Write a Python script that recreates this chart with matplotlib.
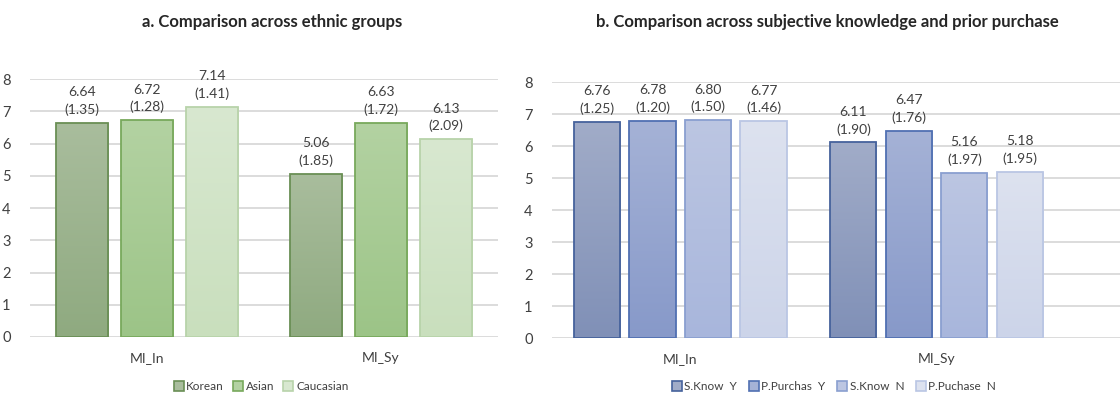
import numpy as np
import matplotlib
matplotlib.use("Agg")
import matplotlib.pyplot as plt
from matplotlib.colors import LinearSegmentedColormap
from matplotlib.lines import Line2D

plt.rcParams['font.family'] = ['Lato', 'DejaVu Sans']

# ---- data ----
groups = ["MI_In", "MI_Sy"]

eth_names = ["Korean", "Asian", "Caucasian"]
eth_means = [[6.64, 5.06], [6.72, 6.63], [7.14, 6.13]]
eth_sds = [[1.35, 1.85], [1.28, 1.72], [1.41, 2.09]]

kp_names = ["S.Know  Y", "P.Purchas  Y", "S.Know  N", "P.Puchase  N"]
kp_means = [[6.76, 6.11], [6.78, 6.47], [6.80, 5.16], [6.77, 5.18]]
kp_sds = [[1.25, 1.90], [1.20, 1.76], [1.50, 1.97], [1.46, 1.95]]

y_ticks = [0, 1, 2, 3, 4, 5, 6, 7, 8]

# ---- styles: (top colour, bottom colour, edge colour) ----
eth_styles = [("#a9bd9d", "#8faa80", "#6a8f55"),
              ("#b3d2a2", "#9cc487", "#78a95c"),
              ("#d8e8d0", "#c9dfbd", "#b8d3aa")]
kp_styles = [("#a1acc8", "#8090b7", "#46629c"),
             ("#a5b2d6", "#8799c9", "#5070b2"),
             ("#bcc6e2", "#a8b6dc", "#8a9fd0"),
             ("#dde2ef", "#ccd4e9", "#bac6e4")]

W, H = 1120, 394
fig = plt.figure(figsize=(W / 100, H / 100), dpi=100)
fig.patch.set_facecolor("white")

GRID = "#d9d9d9"
TXT = "#404040"


def gradient_bar(ax, rect, top, bottom):
    cmap = LinearSegmentedColormap.from_list("g", [bottom, top])
    x0, y0 = rect.get_x(), rect.get_y()
    w, h = rect.get_width(), rect.get_height()
    grad = np.linspace(0, 1, 256).reshape(-1, 1)
    im = ax.imshow(grad, cmap=cmap, origin="lower", aspect="auto",
                   extent=(x0, x0 + w, y0, y0 + h), zorder=2,
                   interpolation="bilinear")
    im.set_clip_path(rect)


def panel(rect_px, xlim, names, means, sds, styles, width, step, pad):
    l, b, w, h = rect_px
    ax = fig.add_axes([l / W, b / H, w / W, h / H])
    ax.set_xlim(*xlim)
    ax.set_ylim(0, 8)
    for s in ax.spines.values():
        s.set_visible(False)
    ax.set_yticks(y_ticks)
    ax.set_yticklabels([str(t) for t in y_ticks])
    ax.yaxis.grid(True, color=GRID, lw=1.3, zorder=0)
    ax.set_axisbelow(True)
    ax.tick_params(axis="y", length=0, pad=pad, labelsize=10.5, labelcolor=TXT)
    ax.set_xticks(range(len(groups)))
    ax.set_xticklabels(groups)
    ax.tick_params(axis="x", length=0, pad=11, labelsize=10, labelcolor=TXT)
    n = len(names)
    x = np.arange(len(groups))
    handles = []
    for i, (name, m, sd, st) in enumerate(zip(names, means, sds, styles)):
        off = (i - (n - 1) / 2) * step
        bars = ax.bar(x + off, m, width=width, color="none",
                      edgecolor=st[2], lw=1.3, zorder=3)
        for r, val, s in zip(bars, m, sd):
            gradient_bar(ax, r, st[0], st[1])
            ax.annotate(f"{val:.2f}\n({s:.2f})", (r.get_x() + width / 2, val),
                        xytext=(0, 5), textcoords="offset points",
                        ha="center", va="bottom", fontsize=10,
                        color=TXT, linespacing=1.5)
        handles.append(Line2D([], [], marker="s", ls="none", markersize=6.5,
                              markerfacecolor=st[0], markeredgecolor=st[2],
                              markeredgewidth=1.2, label=name))
    return ax, handles


ax1, h1 = panel((30, 57, 468, 258), (-0.5, 1.5), eth_names, eth_means,
                eth_sds, eth_styles, width=0.226, step=0.278, pad=14)
ax2, h2 = panel((552, 56, 568, 256), (-0.5, 1.715), kp_names, kp_means,
                kp_sds, kp_styles, width=0.18, step=0.2165, pad=14)

fig.text(272 / W, 1 - 22 / H, "a. Comparison across ethnic groups",
         ha="center", va="center", fontsize=12, fontweight="bold",
         color="#262626")
fig.text(827 / W, 1 - 22 / H,
         "b. Comparison across subjective knowledge and prior purchase",
         ha="center", va="center", fontsize=12, fontweight="bold",
         color="#262626")

fig.legend(handles=h1, loc="center", bbox_to_anchor=(260 / W, 1 - 387 / H),
           ncol=3, frameon=False, fontsize=8.5, handletextpad=0.05,
           columnspacing=0.6, labelcolor=TXT, handlelength=1.2)
fig.legend(handles=h2, loc="center", bbox_to_anchor=(833 / W, 1 - 387 / H),
           ncol=4, frameon=False, fontsize=8.5, handletextpad=0.05,
           columnspacing=0.8, labelcolor=TXT, handlelength=1.2)

fig.savefig("out.png", dpi=100, facecolor="white")
